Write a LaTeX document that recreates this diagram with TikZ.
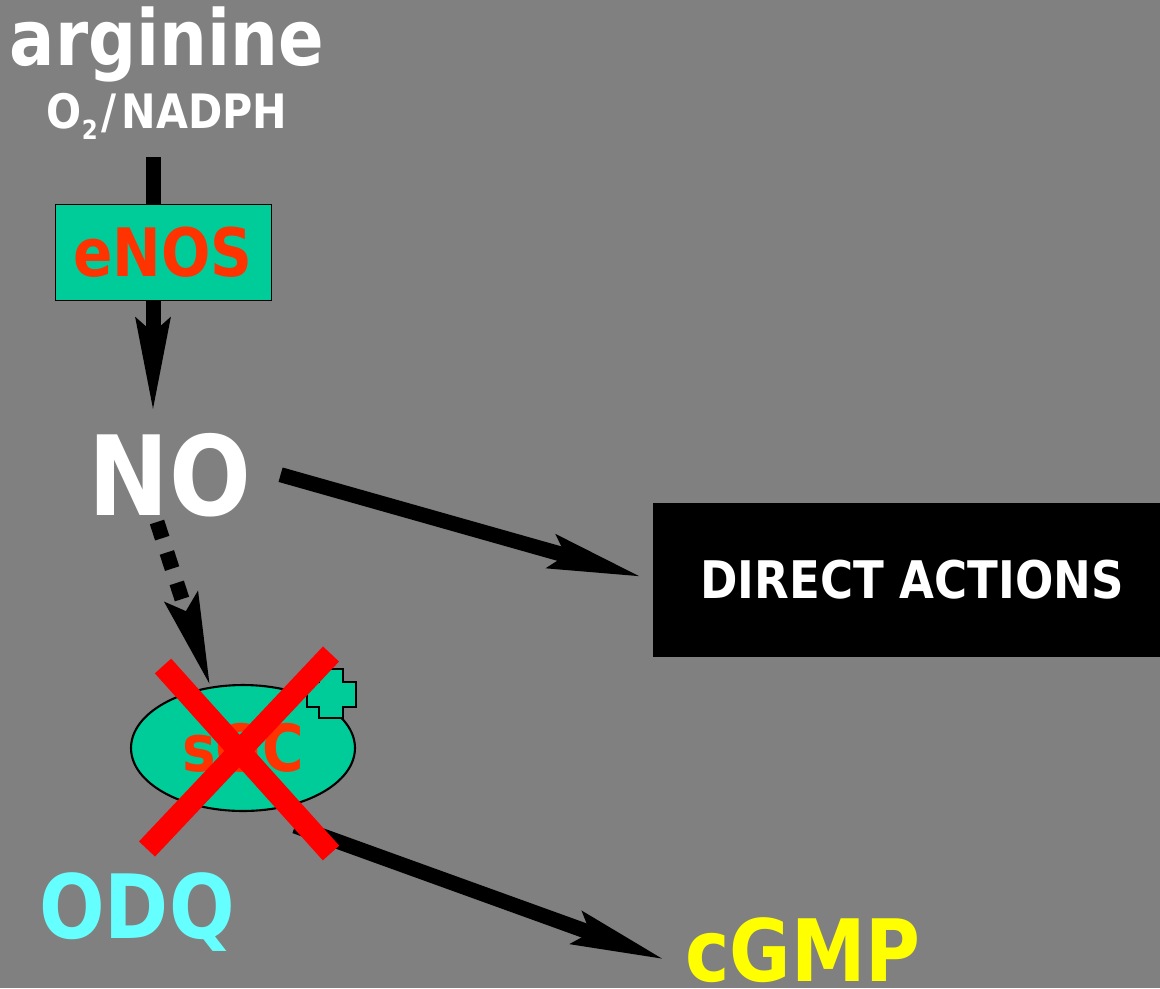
\documentclass[tikz,border=0pt]{standalone}
\usepackage{fontspec}
\setmainfont{DejaVu Sans}[FakeStretch=0.87]
\usepackage{tikz}
\usetikzlibrary{arrows.meta,shapes.geometric,calc}
\definecolor{bggray}{HTML}{808080}
\definecolor{enzgreen}{HTML}{00CC99}
\definecolor{enzred}{HTML}{FF3300}
\definecolor{odqcyan}{HTML}{66FFFF}
\definecolor{cgmpyellow}{HTML}{FFFF00}
\newcommand{\bigfont}[1]{\fontsize{#1}{#1}\selectfont\bfseries}

\begin{document}
\begin{tikzpicture}[x=0.02cm,y=-0.02cm,
  every node/.style={inner sep=0pt},
  whitetext/.style={text=white,anchor=base},
  enzyme/.style={draw=black,fill=enzgreen,text=enzred},
  arr/.style={-{Stealth[length=1.84cm,width=0.66cm,inset=0.26cm]},line width=0.3cm,color=black},
  redx/.style={line width=0.44cm,color=red}
]
\useasboundingbox (0,0) rectangle (1160,988);
\clip (0,0) rectangle (1160,988);
\fill[bggray] (0,0) rectangle (1160,988);

\coordinate (enosin) at (153,157);
\coordinate (notop) at (153,412);
\draw[arr] (enosin) -- (notop);

\node[whitetext,font=\bigfont{44}] (arg) at (167,65) {arginine};
\node[whitetext,font=\bigfont{27}] (nadph) at (167,128) {O\raisebox{-6.8pt}{\fontsize{15}{15}\selectfont 2}\kern2pt/\kern3pt NADPH};
\node[enzyme,minimum width=4.32cm,minimum height=1.92cm,font=\bigfont{38}] (enos) at (163,252) {eNOS};
\node[whitetext,inner xsep=0.58cm,font=\bigfont{63}] (no) at (170,515) {NO};
\node[fill=black,text=white,minimum width=10.36cm,minimum height=3.08cm,font=\bigfont{29.5}] (direct) at (912,580) {DIRECT ACTIONS};
\node[enzyme,ellipse,line width=1.2pt,minimum width=4.48cm,minimum height=2.52cm,font=\bigfont{37}] (sgc) at (243,748) {sGC};
\node[text=odqcyan,anchor=base,font=\bigfont{50.5}] (odq) at (137,938) {ODQ};
\node[text=cgmpyellow,anchor=base west,inner xsep=0.4cm,font=\bigfont{49}] (cgmp) at (665,981) {cGMP};

\coordinate (nofoot) at (157,522);
\coordinate (sgcout) at (295,826);
\draw[arr,shorten >=0.22cm] (no.east) -- (direct.west);
\draw[arr,dash pattern=on 0.34cm off 0.3cm] (nofoot) -- (sgc.118);
\draw[arr] (sgcout) -- ([yshift=-0.2cm]cgmp.west);

\draw[fill=enzgreen,line width=1.2pt] (319,669) -- (343,669) -- (343,682) -- (356,682) -- (356,707) -- (343,707) -- (343,718) -- (319,718) -- (319,707) -- (307,707) -- (307,682) -- (319,682) -- cycle;

\draw[redx] (163,666) -- (331,853);
\draw[redx] (331,654) -- (147,849);
\end{tikzpicture}
\end{document}
